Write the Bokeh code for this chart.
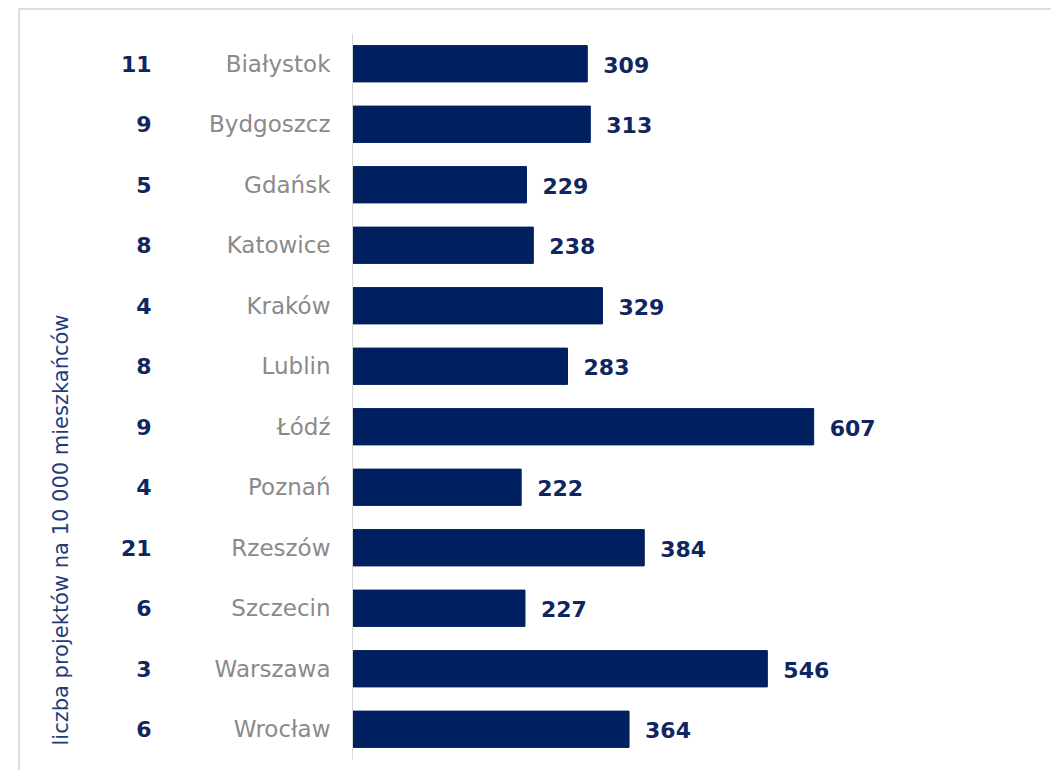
from bokeh.plotting import figure
from bokeh.models import (ColumnDataSource, Range1d, LinearAxis, FixedTicker,
                          Title, InlineStyleSheet)
from bokeh.core.properties import value
from bokeh.embed import file_html
from bokeh.resources import INLINE

cities = ["Białystok", "Bydgoszcz", "Gdańsk", "Katowice", "Kraków", "Lublin",
          "Łódź", "Poznań", "Rzeszów", "Szczecin", "Warszawa", "Wrocław"]
projects = [309, 313, 229, 238, 329, 283, 607, 222, 384, 227, 546, 364]
per10k = [11, 9, 5, 8, 4, 8, 9, 4, 21, 6, 3, 6]
axis_title = "liczba projektów na 10 000 mieszkańców"

NAVY = "#002060"
TEXT_NAVY = "#0f2660"
GRAY = "#8a8a8a"
FONT = "DejaVu Sans"

idx = list(range(len(cities)))
src = ColumnDataSource(dict(
    idx=idx,
    city=cities,
    count=projects,
    count_txt=[str(v) for v in projects],
))

border_css = InlineStyleSheet(css="""
:host { position: relative; }
:host::after {
  content: ""; position: absolute; left: 18px; top: 8px; right: -20px; bottom: -20px;
  border-top: 2px solid #dedede; border-left: 2px solid #dedede; pointer-events: none;
}
""")

p = figure(width=1051, height=770, output_backend="svg", toolbar_location=None,
           y_range=Range1d(len(cities) - 0.5, -0.5),
           x_range=Range1d(0, 920), x_axis_type=None, y_axis_type=None,
           min_border_left=352, min_border_right=0, min_border_top=33, min_border_bottom=11,
           stylesheets=[border_css])
p.outline_line_color = None
p.grid.grid_line_color = None
p.background_fill_color = "white"
p.border_fill_color = "white"

p.hbar(y="idx", right="count", left=0, height=0.6, source=src,
       fill_color=NAVY, line_color=NAVY)

p.text(x="count", y="idx", text="count_txt", source=src, x_offset=16, y_offset=1,
       text_baseline="middle", text_align="left",
       text_font=value(FONT), text_font_style="bold", text_font_size="22px",
       text_color=TEXT_NAVY)

city_axis = LinearAxis(
    ticker=FixedTicker(ticks=idx, minor_ticks=[]),
    major_label_overrides={i: c for i, c in zip(idx, cities)},
    axis_line_color="#d9d9d9", axis_line_width=1,
    major_tick_line_color=None, minor_tick_line_color=None,
    major_tick_out=0, major_tick_in=0, minor_tick_out=0, minor_tick_in=0,
    major_label_standoff=22,
    major_label_text_font=FONT, major_label_text_font_size="23px",
    major_label_text_color=GRAY)
p.add_layout(city_axis, "left")

num_axis = LinearAxis(
    ticker=FixedTicker(ticks=idx, minor_ticks=[]),
    major_label_overrides={i: str(n) for i, n in zip(idx, per10k)},
    axis_line_color=None, major_tick_line_color=None, minor_tick_line_color=None,
    major_tick_out=0, major_tick_in=0, minor_tick_out=0, minor_tick_in=0,
    major_label_standoff=55,
    major_label_text_font=FONT, major_label_text_font_size="22px",
    major_label_text_font_style="bold", major_label_text_color=TEXT_NAVY)
p.add_layout(num_axis, "left")

title = Title(text=axis_title, align="left", offset=14, standoff=90,
              text_font=FONT, text_font_size="21px", text_font_style="normal",
              text_color="#1f3c7a")
p.add_layout(title, "left")

open("out.html", "w").write(file_html(p, INLINE))
